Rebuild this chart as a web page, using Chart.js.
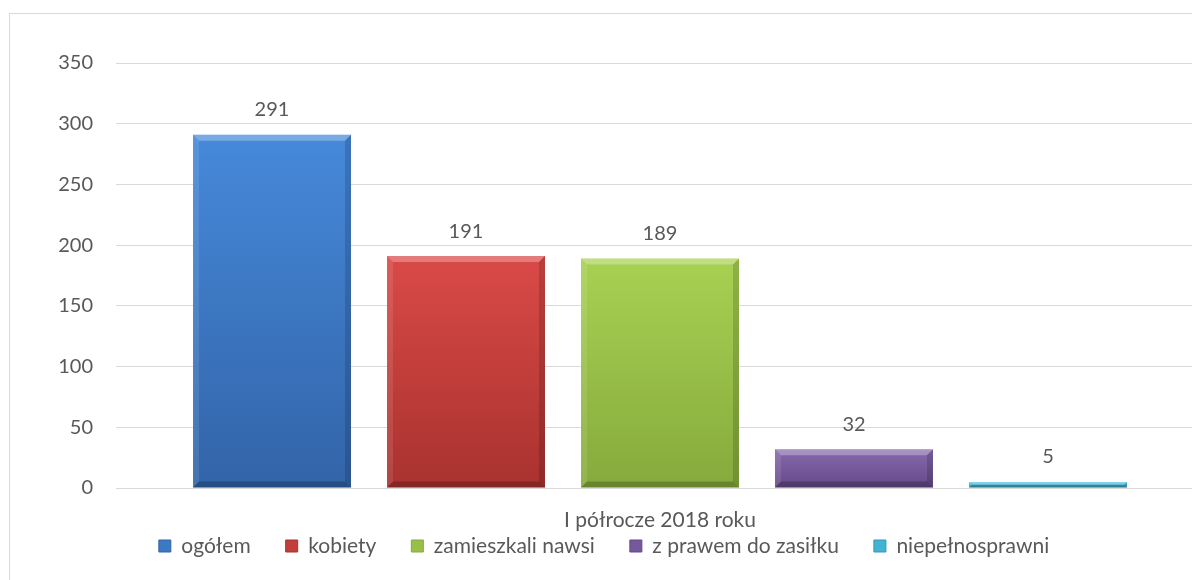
<!DOCTYPE html>
<html>
<head>
<meta charset="utf-8">
<script src="https://cdn.jsdelivr.net/npm/chart.js@4"></script>
<style>
  html, body { margin: 0; padding: 0; background: #fff; overflow: hidden; }
  #wrap { position: absolute; left: 0; top: 0; width: 1230px; height: 580px; }
</style>
</head>
<body>
<div id="wrap"><canvas id="chart"></canvas></div>
<script>
'use strict';

const categories = ['I półrocze 2018 roku'];
const seriesNames = ['ogółem', 'kobiety', 'zamieszkali nawsi', 'z prawem do zasiłku', 'niepełnosprawni'];
const seriesValues = [291, 191, 189, 32, 5];
const yTicks = [0, 50, 100, 150, 200, 250, 300, 350];

// top, bottom, legend colour for each series
const seriesColors = [
  ['#4689da', '#3264a8', '#3d78c4'],
  ['#d94a47', '#a9322f', '#c23e3b'],
  ['#a8d152', '#86aa3c', '#98c049'],
  ['#876aae', '#634887', '#76599c'],
  ['#56c8e4', '#2f9ab8', '#44b3d1']
];

const textColor = '#595959';
const fontFamily = 'Lato, "Noto Sans", sans-serif';

function barGradient(i) {
  return function(context) {
    const chart = context.chart;
    if (!chart.chartArea) return seriesColors[i][2];
    const yScale = chart.scales.y;
    const top = yScale.getPixelForValue(seriesValues[i]);
    const bottom = yScale.getPixelForValue(0);
    const g = chart.ctx.createLinearGradient(0, top, 0, Math.max(bottom, top + 1));
    g.addColorStop(0, seriesColors[i][0]);
    g.addColorStop(1, seriesColors[i][1]);
    return g;
  };
}

const datasets = seriesNames.map(function(name, i) {
  return {
    label: name,
    data: [seriesValues[i]],
    backgroundColor: barGradient(i),
    borderWidth: 0,
    barPercentage: 0.8144,
    categoryPercentage: 0.8915
  };
});

// outer chart frame
const framePlugin = {
  id: 'frame',
  beforeDraw(chart) {
    const c = chart.ctx;
    c.save();
    c.strokeStyle = '#d9d9d9';
    c.lineWidth = 1;
    c.strokeRect(9.5, 13.5, 3000, 3000);
    c.restore();
  }
};

// keep the legend short in the layout and lift its row up under the axis label
const legendPlacePlugin = {
  id: 'legendPlace',
  afterInit(chart) {
    const lg = chart.legend;
    const origFit = lg.fit;
    lg.fit = function() {
      origFit.call(this);
      this.height = 30;
    };
  },
  afterLayout(chart) {
    const lg = chart.legend;
    lg.top -= 43.5;
    lg.bottom = chart.height;
    lg.height = lg.bottom - lg.top;
    lg.left += 2;
    lg.right += 2;
  }
};

// bevel on bars and value labels above them
const barDecorPlugin = {
  id: 'barDecor',
  afterDatasetsDraw(chart) {
    const c = chart.ctx;
    chart.data.datasets.forEach(function(ds, i) {
      const meta = chart.getDatasetMeta(i);
      meta.data.forEach(function(bar, j) {
        const left = bar.x - bar.width / 2;
        const right = bar.x + bar.width / 2;
        const top = bar.y;
        const h = bar.base - bar.y;
        const bev = Math.min(6, h / 2);
        c.save();
        c.fillStyle = 'rgba(255,255,255,0.28)';
        c.beginPath();
        c.moveTo(left, top);
        c.lineTo(right, top);
        c.lineTo(right - bev, top + bev);
        c.lineTo(left + bev, top + bev);
        c.closePath();
        c.fill();
        c.fillStyle = 'rgba(0,0,0,0.15)';
        c.beginPath();
        c.moveTo(right, top);
        c.lineTo(right, bar.base);
        c.lineTo(right - bev, bar.base - bev);
        c.lineTo(right - bev, top + bev);
        c.closePath();
        c.fill();
        c.fillStyle = 'rgba(0,0,0,0.22)';
        c.beginPath();
        c.moveTo(left, bar.base);
        c.lineTo(right, bar.base);
        c.lineTo(right - bev, bar.base - bev);
        c.lineTo(left + bev, bar.base - bev);
        c.closePath();
        c.fill();
        c.fillStyle = 'rgba(255,255,255,0.1)';
        c.beginPath();
        c.moveTo(left, top);
        c.lineTo(left + bev, top + bev);
        c.lineTo(left + bev, bar.base - bev);
        c.lineTo(left, bar.base);
        c.closePath();
        c.fill();

        c.fillStyle = textColor;
        c.font = '20px ' + fontFamily;
        c.textAlign = 'center';
        c.textBaseline = 'middle';
        c.fillText(String(ds.data[j]), bar.x, bar.y - 25);
        c.restore();
      });
    });
  }
};

new Chart(document.getElementById('chart'), {
  type: 'bar',
  data: { labels: categories, datasets: datasets },
  options: {
    responsive: true,
    maintainAspectRatio: false,
    animation: false,
    layout: { padding: { top: 63, right: 26, left: 0, bottom: 6 } },
    plugins: {
      tooltip: { enabled: false },
      legend: {
        position: 'bottom',
        labels: {
          boxWidth: 12,
          boxHeight: 12,
          padding: 35,
          color: textColor,
          font: { family: fontFamily, size: 21 },
          generateLabels(chart) {
            return chart.data.datasets.map(function(ds, i) {
              return {
                text: ds.label,
                fillStyle: seriesColors[i][2],
                strokeStyle: seriesColors[i][1],
                lineWidth: 1,
                datasetIndex: i,
                fontColor: textColor
              };
            });
          }
        }
      }
    },
    scales: {
      x: {
        grid: { display: false },
        border: { display: false },
        ticks: { color: textColor, font: { family: fontFamily, size: 21 }, padding: 12 },
        afterFit(scale) { scale.height = 56; }
      },
      y: {
        min: 0,
        max: 350,
        afterBuildTicks(scale) { scale.ticks = yTicks.map(function(v) { return { value: v }; }); },
        grid: { color: '#d9d9d9', lineWidth: 1, drawTicks: false },
        border: { display: false },
        ticks: { color: textColor, font: { family: fontFamily, size: 20 }, padding: 23 },
        afterFit(scale) { scale.width = 116; }
      }
    }
  },
  plugins: [framePlugin, legendPlacePlugin, barDecorPlugin]
});
</script>
</body>
</html>
